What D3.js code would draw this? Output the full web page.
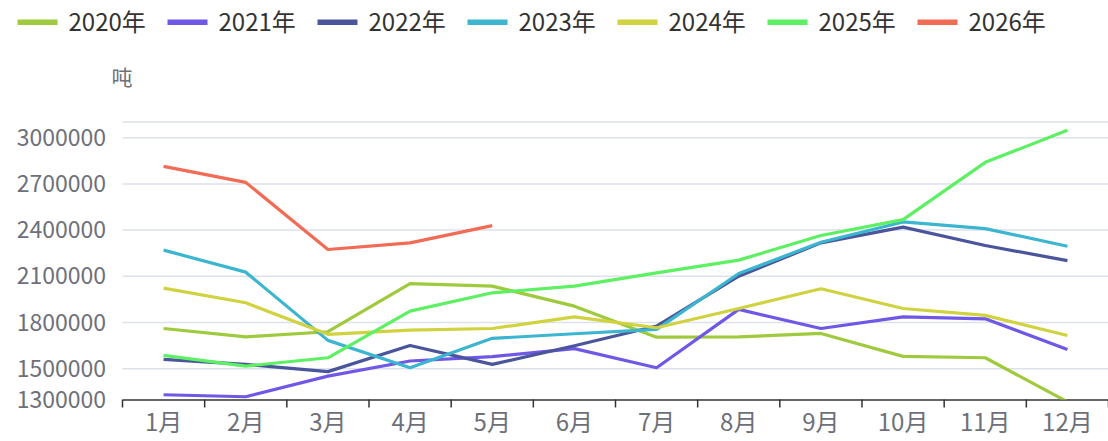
<!DOCTYPE html>
<html>
<head>
<meta charset="utf-8">
<script src="https://cdn.jsdelivr.net/npm/d3@7/dist/d3.min.js"></script>
<style>
  html, body { margin: 0; padding: 0; background: #fff; }
  svg { display: block; font-family: "Noto Sans CJK SC", "DejaVu Sans", sans-serif; }
</style>
</head>
<body>
<div class="chartContainer"></div>
<script>
// months on the x axis
const months = ['1月','2月','3月','4月','5月','6月','7月','8月','9月','10月','11月','12月'];
const yTicks = [1300000, 1500000, 1800000, 2100000, 2400000, 2700000, 3000000];
const years = ['2020年','2021年','2022年','2023年','2024年','2025年','2026年'];
const colors = ['#9fca3e','#7058e6','#4a559c','#3cb5d0','#d0d240','#5cf062','#f26b55'];

// values (tonnes)
const v2020 = [1761000,1707000,1740000,2053000,2036000,1906000,1705000,1707000,1729000,1580000,1571000,1285000];
const v2021 = [1331000,1318000,1452000,1550000,1578000,1630000,1506000,1885000,1761000,1837000,1824000,1625000];
const v2022 = [1560000,1528000,1481000,1651000,1528000,1649000,1777000,2101000,2317000,2419000,2300000,2202000];
const v2023 = [2270000,2127000,1684000,1506000,1697000,1727000,1755000,2118000,2321000,2453000,2410000,2295000];
const v2024 = [2023000,1928000,1723000,1751000,1761000,1837000,1766000,1891000,2019000,1891000,1846000,1716000];
const v2025 = [1586000,1517000,1571000,1874000,1993000,2036000,2122000,2205000,2365000,2468000,2840000,3048000];
const v2026 = [2814000,2710000,2274000,2317000,2429000];

const seriesValues = [v2020, v2021, v2022, v2023, v2024, v2025, v2026];

const width = 1108, height = 441;
const margins = { top: 122, bottom: 399.5, left: 122.5, right: 1108.5 };
const yMax = 3102000;
const labelSize = 24;

const svg = d3.select('.chartContainer')
  .append('svg')
  .attr('width', width)
  .attr('height', height);

const xScale = d3.scaleBand().domain(months).range([margins.left, margins.right]);
const yScale = d3.scaleLinear().domain([1300000, yMax]).range([margins.bottom, margins.top]);

// grid lines
const gridVals = yTicks.slice(1).concat([yMax]);
svg.append('g').selectAll('line')
  .data(gridVals)
  .enter()
  .append('line')
  .attr('x1', margins.left)
  .attr('x2', margins.right)
  .attr('y1', d => yScale(d))
  .attr('y2', d => yScale(d))
  .attr('stroke', '#dde1eb')
  .attr('stroke-width', 1.5);

// y labels
svg.append('g').selectAll('text')
  .data(yTicks)
  .enter()
  .append('text')
  .text(d => d)
  .attr('x', 106)
  .attr('y', d => yScale(d))
  .attr('dy', '0.35em')
  .attr('text-anchor', 'end')
  .attr('font-size', 23)
  .attr('fill', '#6e7079');

svg.append('text')
  .text('吨')
  .attr('x', 122)
  .attr('y', 78)
  .attr('dy', '0.35em')
  .attr('text-anchor', 'middle')
  .attr('font-size', 21)
  .attr('fill', '#6e7079');

// x axis
const xAxis = svg.append('g')
  .attr('transform', `translate(0,${margins.bottom})`)
  .call(d3.axisBottom(xScale).tickSize(0).tickPadding(14));
xAxis.select('.domain').attr('stroke', '#333').attr('stroke-width', 1.5);
xAxis.selectAll('text').attr('font-size', labelSize).attr('fill', '#6e7079')
  .attr('font-family', '"Noto Sans CJK SC", "DejaVu Sans", sans-serif');
const tickPos = months.map(m => xScale(m)).concat([margins.right]);
xAxis.append('g').selectAll('line')
  .data(tickPos)
  .enter()
  .append('line')
  .attr('x1', d => d).attr('x2', d => d)
  .attr('y1', 0).attr('y2', 8)
  .attr('stroke', '#333').attr('stroke-width', 1.5);

// clip area for series
svg.append('clipPath').attr('id', 'plotClip')
  .append('rect')
  .attr('x', margins.left).attr('y', margins.top - 20)
  .attr('width', margins.right - margins.left)
  .attr('height', margins.bottom - margins.top + 20);

const line = d3.line()
  .x((d, i) => xScale(months[i]) + xScale.bandwidth() / 2)
  .y(d => yScale(d));

const chart = svg.append('g').attr('clip-path', 'url(#plotClip)');
chart.selectAll('path')
  .data(seriesValues)
  .enter()
  .append('path')
  .attr('d', d => line(d))
  .attr('fill', 'none')
  .attr('stroke', (d, i) => colors[i])
  .attr('stroke-width', 3.2)
  .attr('stroke-linejoin', 'bevel');

// legend
const legend = svg.append('g').selectAll('g')
  .data(years)
  .enter()
  .append('g')
  .attr('transform', (d, i) => `translate(${17.5 + i * 150},0)`);
legend.append('rect')
  .attr('x', 0).attr('y', 19.5)
  .attr('width', 40).attr('height', 5.5)
  .attr('fill', (d, i) => colors[i]);
legend.append('text')
  .text(d => d)
  .attr('x', 51)
  .attr('y', 23)
  .attr('dy', '0.35em')
  .attr('font-size', labelSize)
  .attr('fill', '#333');
</script>
</body>
</html>
